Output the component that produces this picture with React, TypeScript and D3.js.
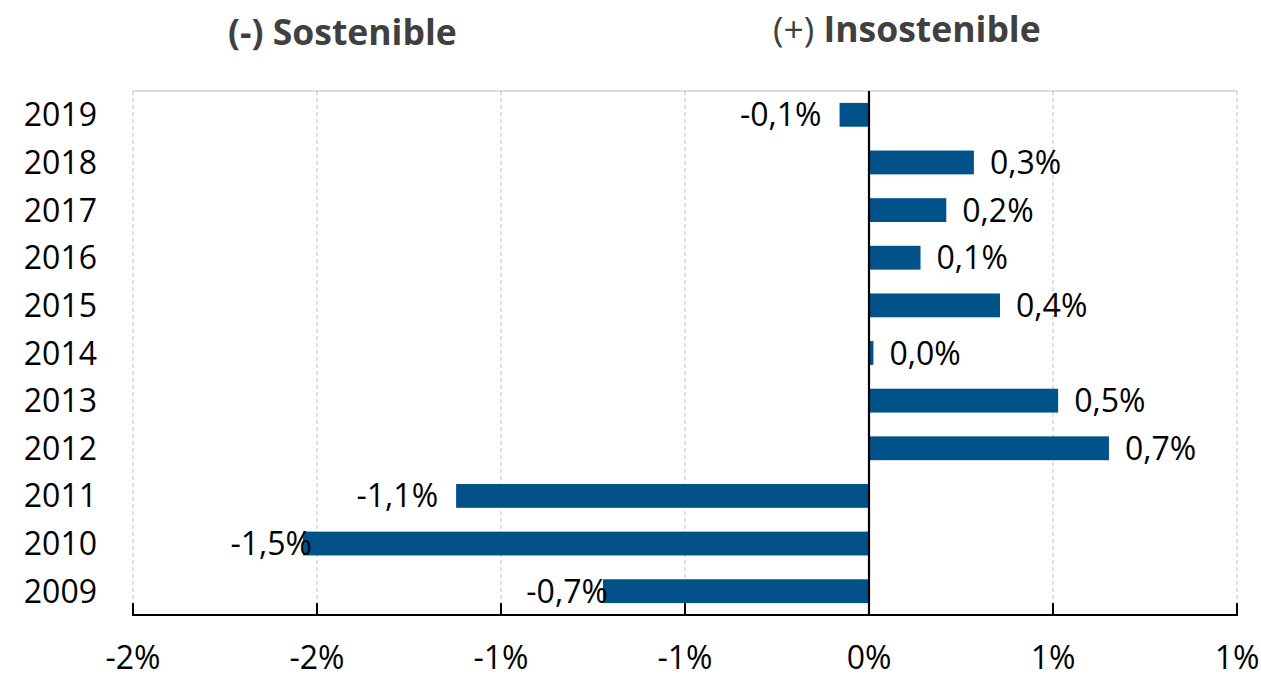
import React from "react";
import * as d3 from "d3";

// Annual change, in percentage points
const years = ["2019", "2018", "2017", "2016", "2015", "2014", "2013", "2012", "2011", "2010", "2009"];
const values = [-0.08, 0.285, 0.21, 0.14, 0.356, 0.012, 0.514, 0.652, -1.122, -1.538, -0.723];
const xDomain: [number, number] = [-2, 1];
const leftTitle = "(-) Sostenible";
const rightTitleSign = "(+)";
const rightTitleWord = "Insostenible";

// labels that sit over the start of their bar
const labelNudge: Record<string, number> = { "2010": 27, "2009": 23 };

const W = 1261;
const H = 679;
const M = { left: 133, right: 1237, top: 91, bottom: 615 };
const FONT = "'Open Sans', sans-serif";
const BAR = "#02528A";

const fmtValue = (v: number) => `${v < 0 ? "-" : ""}${Math.abs(v).toFixed(1).replace(".", ",")}%`;
const fmtTick = (v: number) => `${v < 0 ? "-" : ""}${Math.abs(v).toFixed(0)}%`;

export default function App() {
  const x = d3.scaleLinear().domain(xDomain).range([M.left, M.right]);
  const y = d3
    .scaleBand<string>()
    .domain(years)
    .range([M.top, M.bottom])
    .paddingInner(0.5)
    .paddingOuter(0.25);
  const ticks = x.ticks(6);
  const bw = y.bandwidth();

  return (
    <svg
      width={W}
      height={H}
      style={{ position: "absolute", left: 0, top: 0, background: "#fff" }}
      fontFamily={FONT}
    >
      {/* titles */}
      <text x={228} y={45} fontSize={35.5} fontWeight={700} fill="#404040">
        {leftTitle}
      </text>
      <text x={773} y={42} fontSize={35.5} fill="#404040">
        <tspan fontWeight={400}>{rightTitleSign}</tspan>
        <tspan fontWeight={700}> {rightTitleWord}</tspan>
      </text>

      {/* plot frame and gridlines */}
      <line x1={M.left} x2={M.right} y1={M.top} y2={M.top} stroke="#D0D0D0" strokeWidth={1.5} />
      {ticks
        .filter((t) => t !== 0)
        .map((t) => (
          <line
            key={`g${t}`}
            x1={x(t)}
            x2={x(t)}
            y1={M.top}
            y2={M.bottom}
            stroke="#C8C8C8"
            strokeWidth={1.2}
            strokeDasharray="4 3"
          />
        ))}

      {/* bars */}
      {years.map((yr, i) => {
        const v = values[i];
        const x0 = x(Math.min(0, v));
        const x1 = x(Math.max(0, v));
        return <rect key={yr} x={x0} y={y(yr)} width={x1 - x0} height={bw} fill={BAR} />;
      })}

      {/* zero line */}
      <line x1={x(0)} x2={x(0)} y1={M.top} y2={M.bottom} stroke="#000" strokeWidth={2.2} />

      {/* bottom axis */}
      <line x1={M.left - 1} x2={M.right + 1} y1={M.bottom} y2={M.bottom} stroke="#000" strokeWidth={2} />
      {ticks.map((t) => (
        <g key={`t${t}`}>
          <line x1={x(t)} x2={x(t)} y1={M.bottom} y2={M.bottom - 12} stroke="#000" strokeWidth={2} />
          <text x={x(t)} y={669} textAnchor="middle" fontSize={32} fill="#000">
            {fmtTick(t)}
          </text>
        </g>
      ))}

      {/* category labels */}
      {years.map((yr) => (
        <text
          key={`y${yr}`}
          x={97}
          y={(y(yr) as number) + bw / 2}
          dy="0.36em"
          textAnchor="end"
          fontSize={32}
          fill="#000"
        >
          {yr}
        </text>
      ))}

      {/* value labels */}
      {years.map((yr, i) => {
        const v = values[i];
        const cy = (y(yr) as number) + bw / 2;
        const pos = v >= 0;
        const lx = pos ? x(v) + 16 : x(v) - 18 + (labelNudge[yr] ?? 0);
        return (
          <text
            key={`v${yr}`}
            x={lx}
            y={cy}
            dy="0.36em"
            textAnchor={pos ? "start" : "end"}
            fontSize={32}
            fill="#000"
          >
            {fmtValue(v)}
          </text>
        );
      })}
    </svg>
  );
}
